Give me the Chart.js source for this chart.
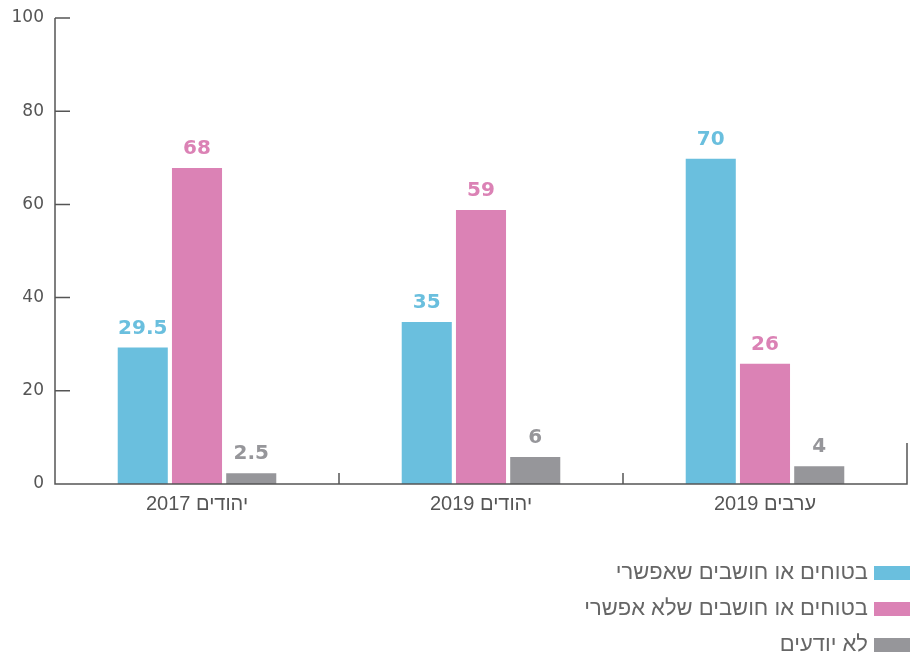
<!DOCTYPE html>
<html>
<head>
<meta charset="utf-8">
<script src="https://cdn.jsdelivr.net/npm/chart.js@4"></script>
<style>
  html, body { margin: 0; padding: 0; background: #fff; }
  #wrap { width: 910px; height: 653px; }
</style>
</head>
<body>
<div id="wrap"><canvas id="c"></canvas></div>
<script>
const categories = ["יהודים 2017", "יהודים 2019", "ערבים 2019"]
const seriesNames = ["בטוחים או חושבים שאפשרי", "בטוחים או חושבים שלא אפשרי", "לא יודעים"]
const possible = [29.5, 35, 70]
const notPossible = [68, 59, 26]
const dontKnow = [2.5, 6, 4]
const yTicks = [0, 20, 40, 60, 80, 100]

const colors = ["#6abfde", "#db82b5", "#96969a"]
const axisColor = "#555555"
const numFont = "'DejaVu Sans', sans-serif"
const textFont = "'Liberation Sans', sans-serif"

// labels above each bar, in the bar colour
const barLabels = {
  id: "barLabels",
  afterDatasetsDraw(chart) {
    const ctx = chart.ctx
    ctx.save()
    ctx.font = "bold 20px " + numFont
    ctx.textAlign = "center"
    ctx.textBaseline = "alphabetic"
    chart.data.datasets.forEach((ds, i) => {
      chart.getDatasetMeta(i).data.forEach((bar, j) => {
        ctx.fillStyle = ds.backgroundColor
        ctx.fillText(String(ds.data[j]), bar.x, bar.y - 13)
      })
    })
    ctx.restore()
  }
}

// axis lines and inward ticks
const axes = {
  id: "axes",
  afterDraw(chart) {
    const ctx = chart.ctx
    const a = chart.chartArea
    const y = chart.scales.y
    const x = chart.scales.x
    ctx.save()
    ctx.strokeStyle = axisColor
    ctx.lineWidth = 1.5
    ctx.beginPath()
    ctx.moveTo(a.left, y.getPixelForValue(100))
    ctx.lineTo(a.left, a.bottom)
    ctx.lineTo(a.right, a.bottom)
    ctx.lineTo(a.right, a.bottom - 41)
    yTicks.forEach(v => {
      const py = y.getPixelForValue(v)
      ctx.moveTo(a.left, py)
      ctx.lineTo(a.left + 15, py)
    })
    for (let i = 1; i < categories.length; i++) {
      const px = (x.getPixelForValue(i - 1) + x.getPixelForValue(i)) / 2
      ctx.moveTo(px, a.bottom)
      ctx.lineTo(px, a.bottom - 11)
    }
    ctx.stroke()
    ctx.restore()
  }
}

// stacked legend at bottom right
const legendRows = {
  id: "legendRows",
  afterDraw(chart) {
    const ctx = chart.ctx
    ctx.save()
    ctx.font = "22px " + textFont
    ctx.textAlign = "right"
    ctx.textBaseline = "middle"
    chart.data.datasets.forEach((ds, i) => {
      const cy = 573 + i * 36
      ctx.fillStyle = ds.backgroundColor
      ctx.fillRect(874, cy - 7, 36, 14)
      ctx.fillStyle = "#666666"
      ctx.fillText(ds.label, 868, cy)
    })
    ctx.restore()
  }
}

new Chart(document.getElementById("c"), {
  type: "bar",
  data: {
    labels: categories,
    datasets: [
      { label: seriesNames[0], data: possible, backgroundColor: colors[0] },
      { label: seriesNames[1], data: notPossible, backgroundColor: colors[1] },
      { label: seriesNames[2], data: dontKnow, backgroundColor: colors[2] },
    ].map(d => Object.assign(d, { borderColor: "rgba(255,255,255,0.5)", borderWidth: 1, categoryPercentage: 0.573, barPercentage: 0.96 })),
  },
  options: {
    responsive: true,
    maintainAspectRatio: false,
    animation: false,
    layout: { padding: { top: 18, right: 3, bottom: 129, left: 0 } },
    plugins: { legend: { display: false }, tooltip: { enabled: false } },
    scales: {
      y: {
        min: 0,
        max: 100,
        afterFit(s) { s.width = 55 },
        afterBuildTicks(s) { s.ticks = yTicks.map(v => ({ value: v })) },
        grid: { display: false },
        border: { display: false },
        ticks: { color: axisColor, font: { family: numFont, size: 17 }, padding: 3 },
      },
      x: {
        afterFit(s) { s.height = 40; s.paddingLeft = 0; s.paddingRight = 0 },
        grid: { display: false },
        border: { display: false },
        ticks: { color: axisColor, font: { family: textFont, size: 20 }, padding: 0 },
      },
    },
  },
  plugins: [barLabels, axes, legendRows],
})
</script>
</body>
</html>
